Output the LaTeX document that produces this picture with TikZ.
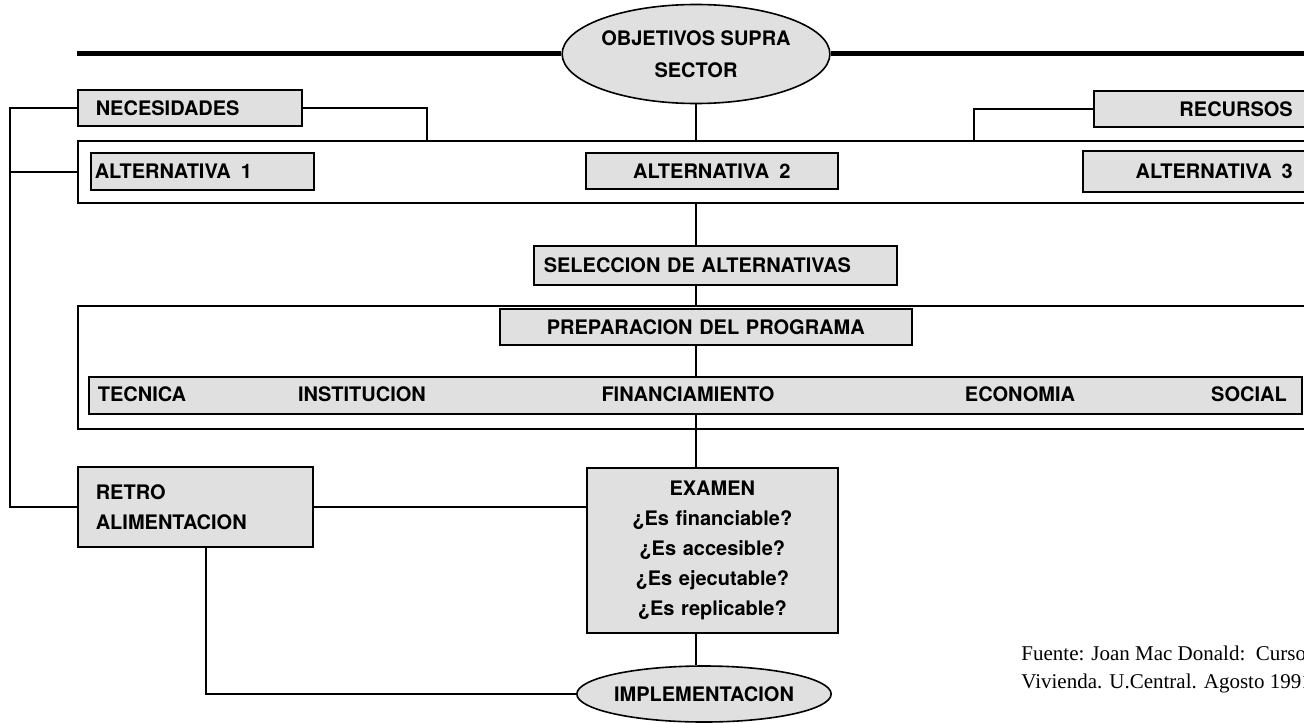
\documentclass[tikz,border=0pt]{standalone}
\usepackage{fontspec}
\setmainfont{TeX Gyre Heros}
\newfontfamily\srcfont{Liberation Serif}
\usetikzlibrary{shapes.geometric}
\newcommand{\lab}{\fontsize{10}{15}\selectfont\bfseries}

\begin{document}
\begin{tikzpicture}[x=0.5pt,y=-0.5pt]
        \tikzset{box/.style={draw, line width=0.8pt, fill=black!12, anchor=north west, inner ysep=0pt, font=\lab},
                 frame/.style={draw, line width=1pt, anchor=north west, inner sep=0pt},
                 oval/.style={ellipse, draw, line width=0.8pt, fill=black!12, inner sep=0pt, align=center, font=\lab},
                 link/.style={line width=1.1pt}}
        \useasboundingbox (0,0) rectangle (1304,722);
        % objectives and inputs
        \node[oval, minimum width=131pt, minimum height=49.5pt] (obj) at (696,54) {OBJETIVOS SUPRA\\[1pt]SECTOR};
        \node[box, inner xsep=9pt, text width=94pt, minimum height=18pt, align=left] (nec) at (77,89) {NECESIDADES};
        \node[box, inner xsep=9pt, text width=90.5pt, minimum height=18pt, align=right] (rec) at (1093,90) {RECURSOS};
        
        % alternatives
        \node[frame, minimum width=621.5pt, minimum height=31pt] (alts) at (77,140) {};
        \node[box, inner xsep=2pt, text width=107.5pt, minimum height=18.5pt, align=left] (alt1) at (90,152) {ALTERNATIVA\enspace 1};
        \node[box, inner xsep=0pt, text width=126pt, minimum height=18pt, align=center] (alt2) at (585,152) {ALTERNATIVA\enspace 2};
        \node[box, inner xsep=9pt, text width=96pt, minimum height=20.5pt, align=right] (alt3) at (1082,150) {ALTERNATIVA\enspace 3};
        \node[box, inner xsep=5pt, text width=171.5pt, minimum height=19.5pt, align=left] (sel) at (533,245) {SELECCION DE ALTERNATIVAS};
        
        % program
        \node[frame, minimum width=621.5pt, minimum height=61.5pt] (prog) at (77,305) {};
        \node[box, inner xsep=0pt, text width=206pt, minimum height=18pt, align=center] (prep) at (499,308) {PREPARACION DEL PROGRAMA};
        \node[box, inner sep=0pt, minimum width=606.5pt, minimum height=18.5pt] (band) at (88,376) {};
        \node[font=\lab] (tec) at (142,394) {TECNICA};
        \node[font=\lab] (inst) at (362,394) {INSTITUCION};
        \node[font=\lab] (fin) at (688,394) {FINANCIAMIENTO};
        \node[font=\lab] (eco) at (1020,394) {ECONOMIA};
        \node[font=\lab] (soc) at (1249,394) {SOCIAL};
        
        % review and feedback
        \node[box, inner xsep=9pt, text width=99.5pt, minimum height=40pt, align=left] (retro) at (77,466) {RETRO\\ALIMENTACION};
        \node[box, inner xsep=0pt, text width=125.5pt, minimum height=82.5pt, align=center] (exam) at (586,467)
            {EXAMEN\\¿Es financiable?\\¿Es accesible?\\¿Es ejecutable?\\¿Es replicable?};
        \node[oval, minimum width=115pt, minimum height=28pt] (impl) at (704,694) {IMPLEMENTACION};
        
        \node[anchor=north west, inner sep=0pt, align=left, font=\srcfont\fontsize{10.5}{14}\selectfont] (src) at (1021,646)
            {Fuente: Joan Mac Donald:\ \ Curso\\Vivienda. U.Central. Agosto 1991};
        
        % connectors
        \coordinate (tl) at (77,54);
        \coordinate (tr) at (1310,54);
        \coordinate (fb) at (10,300);
        \coordinate (necdrop) at (427,0);
        \coordinate (recdrop) at (974,0);
        \coordinate (rdrop) at (206,0);
        \draw[line width=2.5pt] (tl) -- (obj);
        \draw[line width=2.5pt] (obj) -- (tr);
        \draw[link] (obj) -- (obj |- alts.north);
        \draw[link] (alts.south -| obj) -- (sel.north -| obj);
        \draw[link] (sel.south -| obj) -- (prog.north -| obj);
        \draw[link] (prep.south -| obj) -- (band.north -| obj);
        \draw[link] (band.south -| obj) -- (exam.north -| obj);
        \draw[link] (exam.south -| obj) -- (impl.north -| obj);
        \draw[link] (nec.east) -| (alts.north -| necdrop);
        \draw[link] (rec.west) -| (alts.north -| recdrop);
        \draw[link] (nec.west) -| (fb) |- (retro.west);
        \draw[link] (alts.west) -- (alts.west -| fb);
        \draw[link] (retro.east) -- (retro.east -| exam.west);
        \draw[link] (retro.south -| rdrop) |- (impl);
\end{tikzpicture}
\end{document}
